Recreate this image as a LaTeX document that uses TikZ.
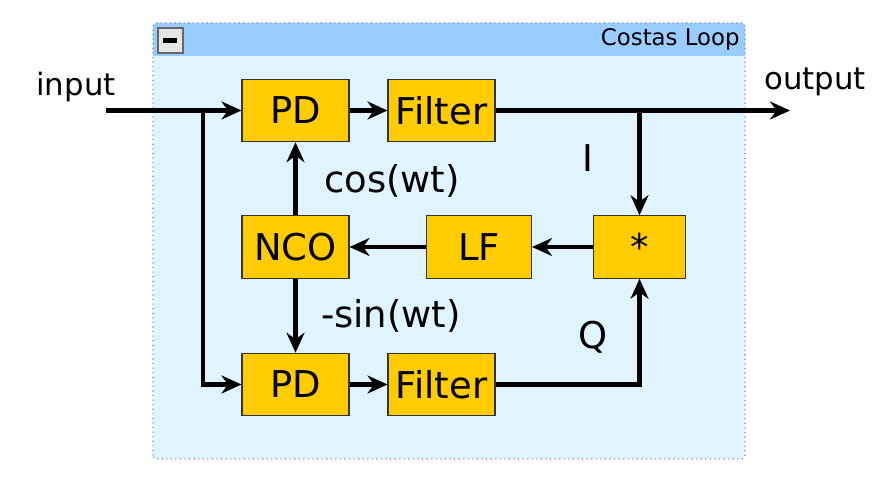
\documentclass[tikz,border=0pt]{standalone}
\usepackage{fontspec}
\setmainfont{DejaVu Sans}
\usetikzlibrary{positioning, arrows.meta}
\definecolor{panelbg}{HTML}{E0F4FF}
\definecolor{titlebg}{HTML}{99CCFF}
\definecolor{panelline}{HTML}{8080A8}
\definecolor{blockfill}{HTML}{FFCC00}
\definecolor{blockline}{HTML}{333333}

\begin{document}
\begin{tikzpicture}[>={Stealth[length=0.4cm,width=0.36cm]},
		block/.style={draw=blockline, line width=0.6pt, fill=blockfill, minimum height=1.25cm, inner sep=0pt, font=\fontsize{21}{24}\selectfont},
		sig/.style={font=\fontsize{21}{24}\selectfont},
		wire/.style={line width=0.087cm, black}]
			\useasboundingbox (0,0) rectangle (17.9,9.94);
			% Panel
			\fill[panelbg, rounded corners=2pt] (3.06,0.76) rectangle (14.9,9.48);
			\fill[titlebg, rounded corners=2pt] (3.06,8.82) rectangle (14.9,9.48);
			\fill[titlebg] (3.06,8.82) rectangle (14.9,9.2);
			\draw[panelline, dotted, line width=0.6pt, rounded corners=2pt] (3.06,0.76) rectangle (14.9,9.48);
			\node[draw=black!60, line width=1pt, fill=black!10, minimum width=0.5cm, minimum height=0.5cm, inner sep=0pt] (collapse) at (3.41,9.13) {};
			\fill[black] ([xshift=-0.15cm,yshift=-0.05cm]collapse.center) rectangle ([xshift=0.12cm,yshift=0.05cm]collapse.center);
			\node[anchor=base east, font=\fontsize{13}{15}\selectfont, inner sep=0pt] (title) at (14.8,9.02) {Costas Loop};
			% Top branch
			\node[block, minimum width=2.14cm] (pdtop) at (5.91,7.73) {PD};
			\node[block, minimum width=2.14cm] (filttop) at (8.83,7.73) {Filter};
			% Loop
			\node[block, minimum width=2.14cm] (nco) at (5.91,5.0) {NCO};
			\node[block, minimum width=2.1cm] (lf) at (9.58,5.0) {LF};
			\node[block, minimum width=1.85cm] (mult) at (12.79,5.0) {*};
			% Bottom branch
			\node[block, minimum width=2.14cm] (pdbot) at (5.91,2.25) {PD};
			\node[block, minimum width=2.14cm] (filtbot) at (8.83,2.25) {Filter};
			% Labels
			\node[font=\fontsize{17.5}{20}\selectfont] (inlabel) at (1.52,8.2) {input};
			\node[font=\fontsize{17.5}{20}\selectfont] (outlabel) at (16.3,8.3) {output};
			\node[sig] (ilabel) at (11.76,6.78) {I};
			\node[sig] (qlabel) at (11.86,3.2) {Q};
			\node[sig] (coslabel) at (7.84,6.32) {cos(wt)};
			\node[sig] (sinlabel) at (7.82,3.62) {-sin(wt)};
			% Points
			\coordinate (in) at (2.12,7.73);
			\coordinate (split1) at (4.06,7.73);
			\coordinate (split2) at (12.79,7.73);
			\coordinate (out) at (15.8,7.73);
			% Arrows input
			\draw[->, wire] (in) -- (pdtop.west);
			\draw[->, wire] (split1) |- (pdbot.west);
			% Arrows top
			\draw[->, wire] (pdtop.east) -- (filttop.west);
			\draw[->, wire] (filttop.east) -- (out);
			\draw[->, wire] (split2) -- (mult.north);
			% Arrows loop
			\draw[->, wire] (mult.west) -- (lf.east);
			\draw[->, wire] (lf.west) -- (nco.east);
			\draw[->, wire] (nco.north) -- (pdtop.south);
			\draw[->, wire] (nco.south) -- (pdbot.north);
			% Arrows bottom
			\draw[->, wire] (pdbot.east) -- (filtbot.west);
			\draw[->, wire] (filtbot.east) -| (mult.south);
		\end{tikzpicture}
\end{document}
